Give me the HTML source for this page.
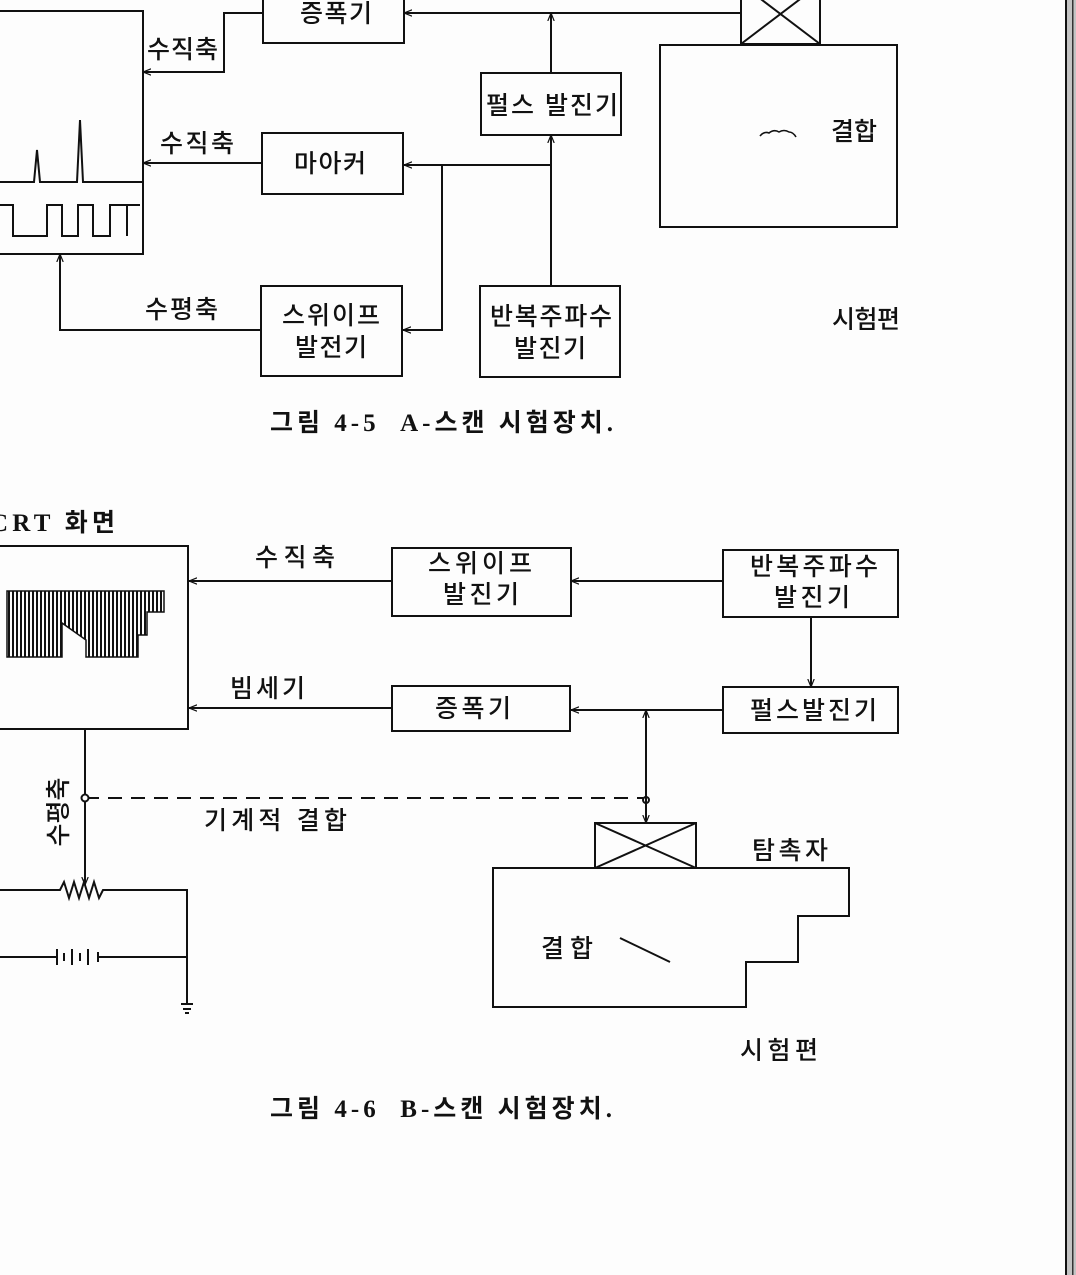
<!DOCTYPE html>
<html><head><meta charset="utf-8"><style>
html,body{margin:0;padding:0;background:#fdfdfd;}
svg{display:block;}
text{font-family:"Liberation Sans","Noto Sans CJK KR",sans-serif;fill:#111;font-size:25px;font-weight:500;}
.b{font-weight:bold;font-family:"Liberation Serif","Noto Sans CJK KR",sans-serif;font-size:25px;}
</style></head><body>
<svg width="1076" height="1275" viewBox="0 0 1076 1275" xmlns="http://www.w3.org/2000/svg">
<defs>
<marker id="a" viewBox="0 0 10 10" refX="10" refY="5" markerWidth="8" markerHeight="8" orient="auto-start-reverse" markerUnits="userSpaceOnUse">
<path d="M0,1 L10,5 L0,9" fill="none" stroke="#111" stroke-width="1.5"/></marker>
<pattern id="h" width="4" height="10" patternUnits="userSpaceOnUse"><rect x="0" y="0" width="2" height="10" fill="#111"/></pattern>
</defs>
<rect x="1066" y="0" width="10" height="1275" fill="#c4c4c4"/>
<rect x="1065" y="0" width="2" height="1275" fill="#111"/>
<rect x="1072" y="0" width="1.5" height="1275" fill="#333"/>
<g fill="none" stroke="#111" stroke-width="2">
<!-- A-scan -->
<path d="M-2,11 H143 V254 H-2"/>
<path d="M0,182 H34 L37,150 L40,182 H77 L80,120 L83,182 H143"/>
<path d="M0,205 H13 V236 H47 V205 H62 V236 H78 V205 H93 V236 H110 V205 H127 V236 M127,205 H140"/>
<rect x="263" y="-5" width="141" height="48"/>
<path d="M263,13 H224 V72 H143" marker-end="url(#a)"/>
<path d="M740,13 H404" marker-end="url(#a)"/>
<path d="M551,73 V13" marker-end="url(#a)"/>
<rect x="481" y="73" width="140" height="62"/>
<path d="M551,286 V135" marker-end="url(#a)"/>
<path d="M551,165 H404" marker-end="url(#a)"/>
<path d="M442,165 V330 H403" marker-end="url(#a)"/>
<rect x="262" y="133" width="141" height="61"/>
<path d="M262,163 H143" marker-end="url(#a)"/>
<rect x="261" y="286" width="141" height="90"/>
<path d="M261,330 H60 V254" marker-end="url(#a)"/>
<rect x="480" y="286" width="140" height="91"/>
<rect x="741" y="-16" width="79" height="60"/>
<path d="M741,-16 L820,44 M820,-16 L741,44"/>
<rect x="660" y="45" width="237" height="182"/>
<path d="M760,136 q4,-5 9,-3 q5,-4 10,-1 q5,-3 10,0 q4,0 7,5" stroke-width="1.6"/>
<!-- B-scan -->
<path d="M-2,546 H188 V729 H-2"/>
<path d="M7,591 H164 V612 H147 V635 H138 V657 H86 V640 L62,623 V657 H7 Z" fill="url(#h)" stroke-width="1.5"/>
<rect x="392" y="548" width="179" height="68"/>
<path d="M392,581 H189" marker-end="url(#a)"/>
<rect x="723" y="550" width="175" height="67"/>
<path d="M723,581 H571" marker-end="url(#a)"/>
<path d="M811,617 V687" marker-end="url(#a)"/>
<rect x="723" y="687" width="175" height="46"/>
<path d="M723,710 H571" marker-end="url(#a)"/>
<rect x="392" y="686" width="178" height="45"/>
<path d="M392,708 H189" marker-end="url(#a)"/>
<path d="M646,823 V710" marker-end="url(#a)" marker-start="url(#a)"/>
<circle cx="646" cy="800" r="3"/>
<path d="M85,798 H643" stroke-dasharray="14,9"/>
<path d="M85,730 V885" marker-end="url(#a)"/>
<circle cx="85" cy="798" r="3.5" fill="#fdfdfd"/>
<rect x="595" y="823" width="101" height="45"/>
<path d="M595,823 L696,868 M696,823 L595,868"/>
<path d="M493,868 H849 V916 H798 V962 H746 V1007 H493 Z"/>
<path d="M620,938 L670,962"/>
<path d="M0,890 H60 L64,882 L69,898 L74,882 L79,898 L84,882 L89,898 L94,882 L99,898 L103,890 H187 V1003"/>
<path d="M0,957 H56 M57,949 V965 M64,953 V961 M72,949 V965 M80,953 V961 M88,949 V965 M98,952 V962 M99,957 H187"/>
<path d="M181,1004 H193 M183,1009 H191 M185,1013 H189"/>
</g>
<g>
<text x="300" y="22" textLength="72">증폭기</text>
<text x="147" y="58" textLength="71">수직축</text>
<text x="486" y="114" textLength="132">펄스 발진기</text>
<text x="160" y="152" textLength="74">수직축</text>
<text x="294" y="172" textLength="72">마아커</text>
<text x="282" y="324" textLength="98">스위이프</text>
<text x="295" y="356" textLength="72">발전기</text>
<text x="145" y="318" textLength="73">수평축</text>
<text x="490" y="325" textLength="122">반복주파수</text>
<text x="514" y="357" textLength="72">발진기</text>
<text x="831" y="140" textLength="46">결합</text>
<text x="832" y="328" textLength="68">시험편</text>
<text x="270" y="431" class="b" textLength="343" xml:space="preserve">그림 4-5  A-스캔 시험장치.</text>
<text x="-10" y="531" class="b" textLength="125">CRT 화면</text>
<text x="255" y="566" textLength="80">수직축</text>
<text x="428" y="572" textLength="104">스위이프</text>
<text x="443" y="603" textLength="76">발진기</text>
<text x="750" y="575" textLength="128">반복주파수</text>
<text x="774" y="606" textLength="76">발진기</text>
<text x="230" y="697" textLength="75">빔세기</text>
<text x="435" y="717" textLength="76">증폭기</text>
<text x="750" y="719" textLength="127">펄스발진기</text>
<text transform="translate(67,812) rotate(-90)" text-anchor="middle">수평축</text>
<text x="204" y="829" textLength="143">기계적 결합</text>
<text x="752" y="859" textLength="76">탐촉자</text>
<text x="541" y="957" textLength="52">결합</text>
<text x="740" y="1059" textLength="78">시험편</text>
<text x="270" y="1117" class="b" textLength="342" xml:space="preserve">그림 4-6  B-스캔 시험장치.</text>
</g>
</svg>
</body></html>
